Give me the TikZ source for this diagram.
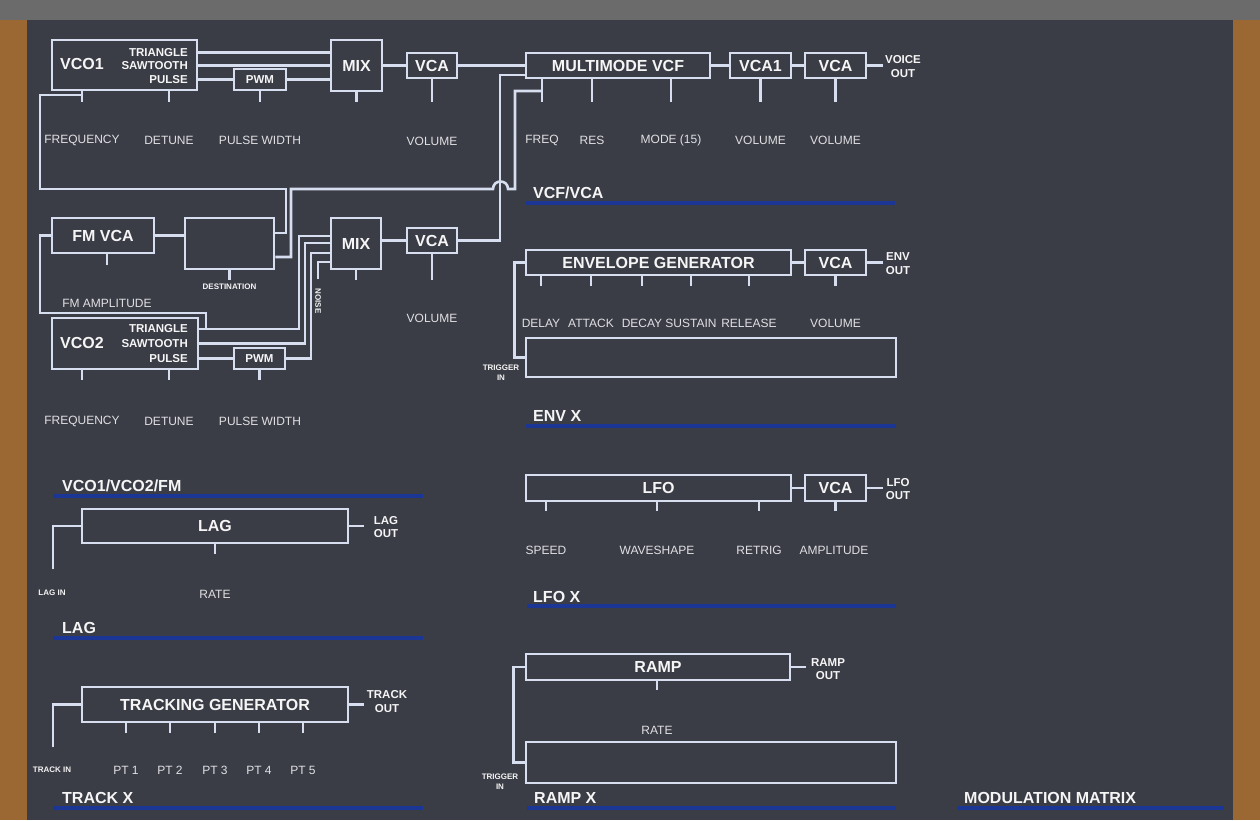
\documentclass[tikz,border=0pt]{standalone}
\usepackage{fontspec}
\setmainfont{Liberation Sans}
\definecolor{bgc}{RGB}{58,60,70}
\definecolor{topc}{RGB}{107,107,107}
\definecolor{brownc}{RGB}{155,104,52}
\definecolor{wirec}{RGB}{214,222,240}
\definecolor{titlec}{RGB}{245,245,245}
\definecolor{lblc}{RGB}{225,225,228}
\definecolor{ulc}{RGB}{28,54,150}
\begin{document}
\begin{tikzpicture}[x=1pt,y=-1pt,
 wire/.style={draw=wirec,line width=2.6pt},
 blk/.style={draw=wirec,line width=2.6pt,inner sep=0pt,text=titlec,font=\bfseries\fontsize{16}{18}\selectfont},
 wh/.style 2 args={minimum width=#1pt,minimum height=#2pt},
 ttl/.style={inner sep=0pt,text=titlec,font=\bfseries\fontsize{16}{18}\selectfont},
 sm/.style={inner sep=0pt,text=titlec,font=\bfseries\fontsize{11.5}{13.5}\selectfont,align=center},
 tn/.style={inner sep=0pt,text=titlec,font=\bfseries\fontsize{8}{10}\selectfont,align=center},
 lbl/.style={inner sep=0pt,text=lblc,font=\fontsize{12}{14}\selectfont},
 hd/.style={inner sep=0pt,anchor=west,text=titlec,font=\bfseries\fontsize{16}{18}\selectfont},
 ul/.style={draw=ulc,line width=4pt}]
% background
\fill[bgc] (0,0) rectangle (1260,820);
\fill[topc] (0,0) rectangle (1260,20);
\fill[brownc] (0,20) rectangle (27,820);
\fill[brownc] (1233,20) rectangle (1260,820);
\useasboundingbox (0,0) rectangle (1260,820);

% ---------- VCO1 row ----------
\node[blk,wh={145}{50}] (vco1) at (124.5,65) {};
\node[ttl] (vco1t) at (82,64) {VCO1};
\node[sm,anchor=east] (tri1) at (188,52.5) {TRIANGLE};
\node[sm,anchor=east] (saw1) at (188,65.5) {SAWTOOTH};
\node[sm,anchor=east] (pul1) at (188,79.5) {PULSE};
\node[blk,wh={52}{21},font=\bfseries\fontsize{11.5}{13.5}\selectfont] (pwm1) at (260,79.5) {PWM};
\node[blk,wh={51}{51}] (mix1) at (356.5,65.5) {MIX};
\node[blk,wh={50}{25}] (vcaa) at (432,65.5) {VCA};
\node[blk,wh={184}{25}] (vcf) at (618,65.5) {MULTIMODE VCF};
\node[blk,wh={61}{25}] (vca1) at (760.5,65.5) {VCA1};
\node[blk,wh={61}{25}] (vcav) at (835.5,65.5) {VCA};
\node[sm] (vout) at (903,66.5) {VOICE\\OUT};

\node[lbl] (f1) at (82,140) {FREQUENCY};
\node[lbl] (d1) at (169,140) {DETUNE};
\node[lbl] (pw1) at (260,140) {PULSE WIDTH};
\node[lbl] (va) at (432,141) {VOLUME};
\node[lbl] (fq) at (542,140) {FREQ};
\node[lbl] (rs) at (592,140) {RES};
\node[lbl] (md) at (671,140) {MODE (15)};
\node[lbl] (v1) at (760.5,140) {VOLUME};
\node[lbl] (vv) at (835.5,140) {VOLUME};

\draw[wire] (vco1.east |- tri1) -- (mix1.west |- tri1);
\draw[wire] (vco1.east |- saw1) -- (mix1.west |- saw1);
\draw[wire] (vco1.east |- pul1) -- (pwm1.west);
\draw[wire] (pwm1.east) -- (mix1.west |- pwm1.east);
\draw[wire] (mix1.east) -- (vcaa.west);
\draw[wire] (vcaa.east) -- (vcf.west);
\draw[wire] (vcf.east) -- (vca1.west);
\draw[wire] (vca1.east) -- (vcav.west);
\draw[wire] (vcav.east) -- ++(16,0);

\draw[wire] (vco1.south -| f1) -- ++(0,11);
\draw[wire] (vco1.south -| d1) -- ++(0,11);
\draw[wire] (pwm1.south) -- ++(0,11);
\draw[wire] (mix1.south) -- ++(0,10);
\draw[wire] (vcaa.south) -- ++(0,23);
\draw[wire] (vcf.south -| fq) -- ++(0,23);
\draw[wire] (vcf.south -| rs) -- ++(0,23);
\draw[wire] (vcf.south -| md) -- ++(0,23);
\draw[wire] (vca1.south) -- ++(0,23);
\draw[wire] (vcav.south) -- ++(0,23);

% ---------- FM / VCO2 ----------
\node[blk,wh={102}{35}] (fmvca) at (103,235.5) {FM VCA};
\node[blk,wh={89}{51}] (dest) at (229.5,243.5) {};
\node[tn] (destl) at (229.5,287) {DESTINATION};
\node[lbl] (fma) at (107,303) {FM AMPLITUDE};
\node[blk,wh={50}{51}] (mix2) at (356,243.5) {MIX};
\node[blk,wh={50}{25}] (vcab) at (432,240.5) {VCA};
\node[lbl] (vb) at (432,318) {VOLUME};
\node[blk,wh={146}{51}] (vco2) at (125,343.5) {};
\node[ttl] (vco2t) at (82,343) {VCO2};
\node[sm,anchor=east] (tri2) at (188,329) {TRIANGLE};
\node[sm,anchor=east] (saw2) at (188,343.5) {SAWTOOTH};
\node[sm,anchor=east] (pul2) at (188,358.5) {PULSE};
\node[blk,wh={51}{21},font=\bfseries\fontsize{11.5}{13.5}\selectfont] (pwm2) at (259.5,358.5) {PWM};
\node[lbl] (f2) at (82,421) {FREQUENCY};
\node[lbl] (d2) at (169,421) {DETUNE};
\node[lbl] (pw2) at (260,421) {PULSE WIDTH};
\node[tn,rotate=-90] (noisel) at (318,301) {NOISE};

\draw[wire] (fmvca.east) -- (dest.west |- fmvca.east);
\draw[wire] (fmvca.west) -| (40,313) -| (206,329);
\draw[wire] (fmvca.south -| fma) -- ++(0,11);
\draw[wire] (dest.south) -- ++(0,10);
\draw[wire] (vco2.east |- tri2) -| (299,236) -- (mix2.west |- 0,236);
\draw[wire] (vco2.east |- saw2) -| (305,243) -- (mix2.west |- 0,243);
\draw[wire] (vco2.east |- pul2) -- (pwm2.west);
\draw[wire] (pwm2.east) -| (311,253) -- (mix2.west |- 0,253);
\coordinate (nz) at (318,279);
\draw[wire] (nz) |- (mix2.west |- 0,262);
\draw[wire] (mix2.south) -- ++(0,10);
\draw[wire] (mix2.east |- vcab.west) -- (vcab.west);
\draw[wire] (vcab.south) -- ++(0,26);
\draw[wire] (vco2.south -| f2) -- ++(0,10);
\draw[wire] (vco2.south -| d2) -- ++(0,10);
\draw[wire] (pwm2.south) -- ++(0,10);

% feedback wires
\coordinate (j1) at (82,95);
\draw[wire] (j1) -| (40,189) -| (286,233) -- (dest.east |- 0,233);
\coordinate (j2) at (542,91);
\draw[wire] (dest.east |- 0,257) -| (291,189) -- (493,189)
  .. controls (493,179) and (508,179) .. (508,189) -- (515,189) |- (j2);
\draw[wire] (vcab.east) -| (500,75) -- (vcf.west |- 0,75);

\node[hd] (h1) at (62,486) {VCO1/VCO2/FM};
\draw[ul] (53,496) -- (423,496);

% ---------- LAG ----------
\node[blk,wh={266}{34}] (lag) at (215,526) {LAG};
\draw[wire] (lag.south) -- ++(0,10);
\draw[wire] (lag.west) -| (53,569);
\draw[wire] (lag.east) -- ++(15,0);
\node[tn] (lagin) at (52,593) {LAG IN};
\node[sm] (lagout) at (386,527) {LAG\\OUT};
\node[lbl] (rate1) at (215,594) {RATE};
\node[hd] (h2) at (62,628) {LAG};
\draw[ul] (53,638) -- (423,638);

% ---------- TRACK ----------
\node[blk,wh={266}{35}] (trk) at (215,704.5) {TRACKING GENERATOR};
\node[lbl] (p1) at (126,770) {PT 1};
\node[lbl] (p2) at (170,770) {PT 2};
\node[lbl] (p3) at (215,770) {PT 3};
\node[lbl] (p4) at (259,770) {PT 4};
\node[lbl] (p5) at (303,770) {PT 5};
\foreach \p in {p1,p2,p3,p4,p5} \draw[wire] (trk.south -| \p) -- ++(0,10);
\draw[wire] (trk.west) -| (53,747);
\draw[wire] (trk.east) -- ++(15,0);
\node[tn] (trkin) at (52,770) {TRACK IN};
\node[sm] (trkout) at (387,701.5) {TRACK\\OUT};
\node[hd] (h3) at (62,798) {TRACK X};
\draw[ul] (53,808) -- (423,808);

% ---------- VCF/VCA heading ----------
\node[hd] (h4) at (533,193) {VCF/VCA};
\draw[ul] (526,203) -- (895,203);

% ---------- ENVELOPE ----------
\node[blk,wh={265}{25}] (eg) at (658.5,262.5) {ENVELOPE GENERATOR};
\node[blk,wh={61}{25}] (vcae) at (835.5,262.5) {VCA};
\draw[wire] (eg.east) -- (vcae.west);
\draw[wire] (vcae.east) -- ++(16,0);
\node[sm] (envout) at (898,263.5) {ENV\\OUT};
\node[lbl] (e1) at (541,323) {DELAY};
\node[lbl] (e2) at (591,323) {ATTACK};
\node[lbl] (e3) at (642,323) {DECAY};
\node[lbl] (e4) at (691,323) {SUSTAIN};
\node[lbl] (e5) at (749,323) {RELEASE};
\node[lbl] (e6) at (835.5,323) {VOLUME};
\foreach \e in {e1,e2,e3,e4,e5} \draw[wire] (eg.south -| \e) -- ++(0,10);
\draw[wire] (vcae.south) -- ++(0,10);
\node[blk,wh={370}{39}] (trg1) at (711,357.5) {};
\draw[wire] (eg.west) -- ++(-10,0) |- (trg1.west);
\node[tn] (trgin1) at (501,373) {TRIGGER\\IN};
\node[hd] (h5) at (533,416) {ENV X};
\draw[ul] (526,426) -- (896,426);

% ---------- LFO ----------
\node[blk,wh={265}{26}] (lfo) at (658.5,488) {LFO};
\node[blk,wh={61}{26}] (vcal) at (835.5,488) {VCA};
\draw[wire] (lfo.east) -- (vcal.west);
\draw[wire] (vcal.east) -- ++(16,0);
\node[sm] (lfoout) at (898,489) {LFO\\OUT};
\node[lbl] (l1) at (546,550) {SPEED};
\node[lbl] (l2) at (657,550) {WAVESHAPE};
\node[lbl] (l3) at (759,550) {RETRIG};
\node[lbl] (l4) at (834,550) {AMPLITUDE};
\foreach \l in {l1,l2,l3} \draw[wire] (lfo.south -| \l) -- ++(0,9);
\draw[wire] (vcal.south) -- ++(0,9);
\node[hd] (h6) at (533,597) {LFO X};
\draw[ul] (527,606) -- (896,606);

% ---------- RAMP ----------
\node[blk,wh={264}{26}] (ramp) at (658,667) {RAMP};
\node[lbl] (rate2) at (657,730) {RATE};
\draw[wire] (ramp.south -| rate2) -- ++(0,9);
\draw[wire] (ramp.east) -- ++(15,0);
\node[sm] (rampout) at (828,669) {RAMP\\OUT};
\node[blk,wh={370}{41}] (trg2) at (711,762.5) {};
\draw[wire] (ramp.west) -- ++(-11,0) |- (trg2.west);
\node[tn] (trgin2) at (500,782) {TRIGGER\\IN};
\node[hd] (h7) at (534,798) {RAMP X};
\draw[ul] (527,808) -- (896,808);

% ---------- MODULATION MATRIX ----------
\node[hd] (h8) at (964,798) {MODULATION MATRIX};
\draw[ul] (957,808) -- (1224,808);
\end{tikzpicture}
\end{document}
